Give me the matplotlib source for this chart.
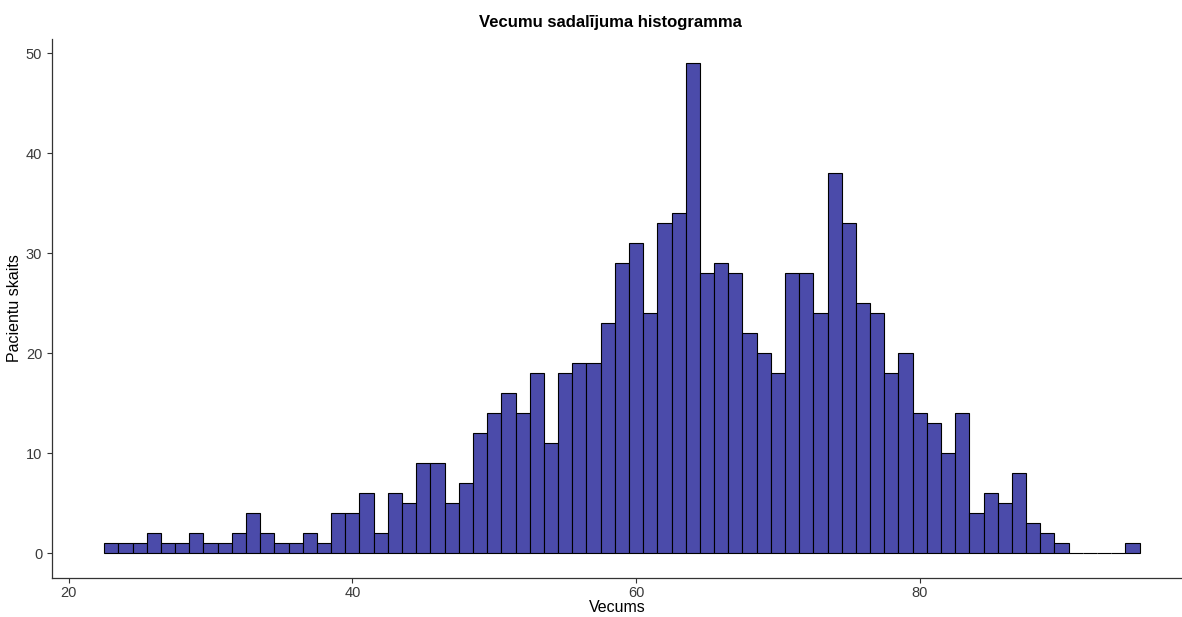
import matplotlib
matplotlib.use("Agg")
import matplotlib.pyplot as plt
import numpy as np

plt.rcParams['font.family'] = ['Liberation Sans', 'DejaVu Sans']

ages = list(range(23, 96))
counts = [1, 1, 1, 2, 1, 1, 2, 1, 1, 2,   # 23-32
          4, 2, 1, 1, 2, 1, 4, 4, 6, 2,   # 33-42
          6, 5, 9, 9, 5, 7, 12, 14, 16, 14,  # 43-52
          18, 11, 18, 19, 19, 23, 29, 31, 24, 33,  # 53-62
          34, 49, 28, 29, 28, 22, 20, 18, 28, 28,  # 63-72
          24, 38, 33, 25, 24, 18, 20, 14, 13, 10,  # 73-82
          14, 4, 6, 5, 8, 3, 2, 1, 0, 0,  # 83-92
          0, 0, 1]  # 93-95

title = "Vecumu sadalījuma histogramma"
xlabel = "Vecums"
ylabel = "Pacientu skaits"
xticks = [20, 40, 60, 80]
yticks = [0, 10, 20, 30, 40, 50]

W, H = 1182, 617
fig = plt.figure(figsize=(W / 100, H / 100), dpi=100)
ax = fig.add_axes([52 / W, 1 - 578 / H, 1 - 52 / W, (578 - 38.5) / H])

edges = np.arange(22.5, 96.5, 1.0)
ax.hist(ages, bins=edges, weights=counts, color='#4B4BAA', edgecolor='black', linewidth=0.8)

ax.set_xlim(18.82, 98.49)
ax.set_ylim(-2.45, 51.45)
ax.set_xticks(xticks)
ax.set_yticks(yticks)
for s in ['top', 'right']:
    ax.spines[s].set_visible(False)
for s in ['left', 'bottom']:
    ax.spines[s].set_color('#333333')
    ax.spines[s].set_linewidth(0.9)
ax.tick_params(axis='both', colors='#333333', labelcolor='#3A3A3A', labelsize=10.5, length=3.5, width=0.8)
ax.tick_params(axis='x', pad=2.5)
ax.set_xlabel(xlabel, fontsize=11.5, color='black', labelpad=0)
ax.set_ylabel(ylabel, fontsize=11.5, color='black', labelpad=3)
fig.text((52 + 1168) / 2 / W, 1 - 22 / H, title, ha='center', va='center', fontsize=12, fontweight='bold')

fig.savefig('out.png', dpi=100)
